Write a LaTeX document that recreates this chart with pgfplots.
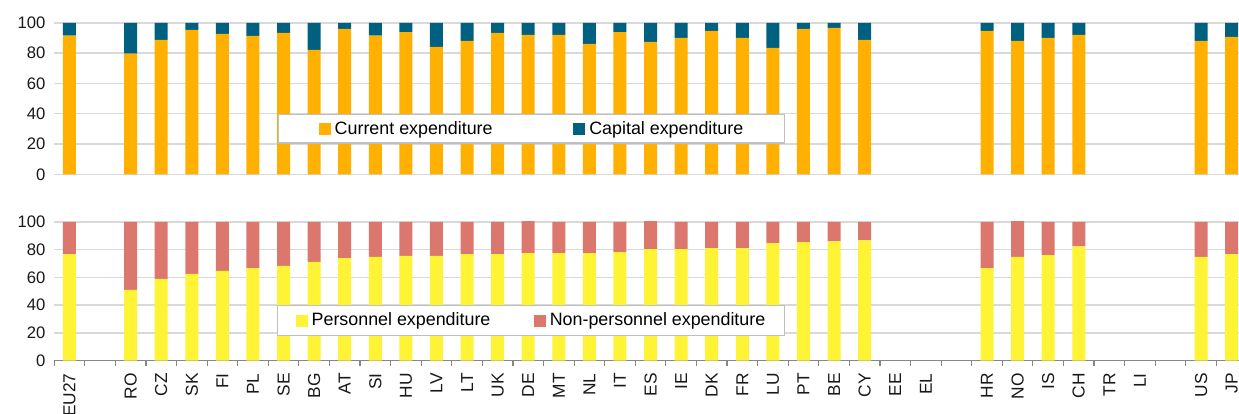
\documentclass[border=0pt]{standalone}
\usepackage{pgfplots}
\pgfplotsset{compat=1.18}
\usepackage{fontspec}
\setmainfont{Liberation Sans}
\definecolor{cur}{HTML}{FFB000}
\definecolor{cap}{HTML}{00607F}
\definecolor{pers}{HTML}{FFF335}
\definecolor{nonp}{HTML}{DB776D}
\definecolor{gridc}{HTML}{D9D9D9}
\definecolor{axc}{HTML}{868686}
\pgfplotsset{
  base/.style={
    scale only axis, width=888.6pt,
    xmin=-0.5, xmax=38.24, ymin=0, ymax=100, enlargelimits=false,
    ytick={0,20,...,100}, ymajorgrids,
    grid style={gridc, line width=1.1pt},
    ybar stacked, bar width=9.75pt,
    tick label style={font=\fontsize{12.5}{15}\selectfont, text=black!90},
    /pgf/number format/assume math mode=true,
    major tick length=0pt,
    yticklabel shift=3pt,
    clip=false,
    legend columns=2,
    legend cell align=left,
    legend image code/.code={\fill[##1] (0pt,-4.5pt) rectangle (9pt,4.5pt);},
  }
}
\begin{document}
\begin{tikzpicture}
\useasboundingbox (0,0) rectangle (929.25pt,310.5pt);
% top panel
\begin{axis}[base,
  at={(40.65pt,179.8pt)}, anchor=south west, height=113.5pt,
  axis line style={draw=none},
  xtick=\empty,
  legend style={at={(0.1889,0.3985)}, anchor=north west,
    draw=black!25, line width=1.1pt, fill=white,
    font=\fontsize{13.4}{15}\selectfont,
    inner xsep=30pt, inner ysep=3pt,
    nodes={inner xsep=1pt, inner ysep=2pt},
    /tikz/every odd column/.append style={column sep=2pt},
    /tikz/every even column/.append style={column sep=59.5pt}},
]
\addplot[fill=cur, draw=none] coordinates {(0,91.6) (2,79.7) (3,88.8) (4,95.4) (5,92.7) (6,91.4) (7,93.4) (8,82.2) (9,96.0) (10,91.6) (11,94.0) (12,84.1) (13,88.1) (14,93.4) (15,92.1) (16,92.1) (17,86.1) (18,94.0) (19,87.4) (20,90.1) (21,94.7) (22,90.1) (23,83.5) (24,96.0) (25,96.7) (26,88.8) (30,94.7) (31,88.1) (32,90.1) (33,92.1) (37,88.1) (38,90.8)};
\addplot[fill=cap, draw=none] coordinates {(0,8.4) (2,20.3) (3,11.2) (4,4.6) (5,7.3) (6,8.6) (7,6.6) (8,17.8) (9,4.0) (10,8.4) (11,6.0) (12,15.9) (13,11.9) (14,6.6) (15,7.9) (16,7.9) (17,13.9) (18,6.0) (19,12.6) (20,9.9) (21,5.3) (22,9.9) (23,16.5) (24,4.0) (25,3.3) (26,11.2) (30,5.3) (31,11.9) (32,9.9) (33,7.9) (37,11.9) (38,9.2)};
\legend{Current expenditure, Capital expenditure}
\end{axis}
% bottom panel
\begin{axis}[base,
  at={(40.65pt,40.0pt)}, anchor=south west, height=104pt,
  axis x line*=bottom, axis y line*=left,
  y axis line style={draw=none},
  x axis line style={draw=axc, line width=0.9pt},
  xtick={0,...,38},
  xticklabels={EU27,{},RO,CZ,SK,FI,PL,SE,BG,AT,SI,HU,LV,LT,UK,DE,MT,NL,IT,ES,IE,DK,FR,LU,PT,BE,CY,EE,EL,{},HR,NO,IS,CH,TR,LI,{},US,JP},
  xticklabel style={rotate=90, anchor=east, font=\fontsize{13}{15}\selectfont},
  xticklabel shift=6pt,
  minor xtick={-0.5,0.5,...,37.5},
  minor tick length=4pt, tick align=outside,
  minor tick style={draw=axc, line width=0.9pt},
  legend style={at={(0.188,0.4016)}, anchor=north west,
    draw=black!25, line width=1.1pt, fill=white,
    font=\fontsize{13.4}{15}\selectfont,
    inner xsep=13.5pt, inner ysep=3.5pt,
    nodes={inner xsep=1pt, inner ysep=2pt},
    /tikz/every odd column/.append style={column sep=2pt},
    /tikz/every even column/.append style={column sep=31.5pt}},
]
\addplot[fill=pers, draw=none] coordinates {(0,76.9) (2,51.0) (3,58.9) (4,62.5) (5,64.7) (6,66.8) (7,68.3) (8,71.2) (9,74.0) (10,74.8) (11,75.5) (12,75.5) (13,76.9) (14,76.9) (15,77.6) (16,77.6) (17,77.6) (18,78.3) (19,80.4) (20,80.4) (21,81.1) (22,81.1) (23,84.7) (24,85.4) (25,86.1) (26,86.8) (30,66.8) (31,74.8) (32,76.2) (33,82.5) (37,74.8) (38,76.9)};
\addplot[fill=nonp, draw=none] coordinates {(0,23.1) (2,49.0) (3,41.1) (4,37.5) (5,35.3) (6,33.2) (7,31.7) (8,28.8) (9,26.0) (10,25.2) (11,24.5) (12,24.5) (13,23.1) (14,23.1) (15,23.1) (16,22.4) (17,22.4) (18,21.7) (19,20.3) (20,19.6) (21,18.9) (22,18.9) (23,15.3) (24,14.6) (25,13.9) (26,13.2) (30,33.2) (31,25.9) (32,23.8) (33,17.5) (37,25.2) (38,23.1)};
\legend{Personnel expenditure, Non-personnel expenditure}
\end{axis}
\end{tikzpicture}
\end{document}
